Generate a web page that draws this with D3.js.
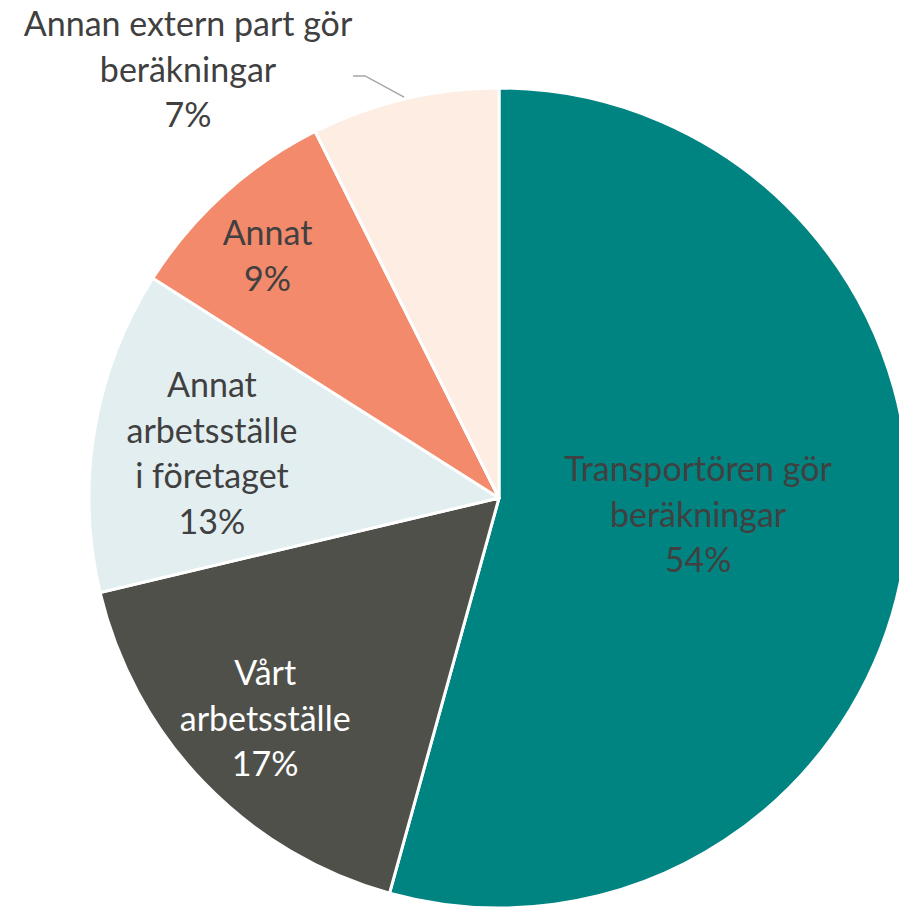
<!DOCTYPE html>
<html>
<head>
<meta charset="utf-8">
<script src="https://cdn.jsdelivr.net/npm/d3@7"></script>
<style>
  html, body { margin: 0; padding: 0; background: #fff; }
  svg { display: block; }
  text { font-family: Lato, "Open Sans", sans-serif; }
</style>
</head>
<body>
<div id="pie"></div>
<script>
// ===========================================================
// DATA
// ===========================================================
var categories = [
    "Transportören gör beräkningar",
    "Vårt arbetsställe",
    "Annat arbetsställe i företaget",
    "Annat",
    "Annan extern part gör beräkningar"
];
var shares = [54.3, 17.0, 12.7, 8.6, 7.4];

// how each label is broken into lines
var labelLines = [
    ["Transportören gör", "beräkningar"],
    ["Vårt", "arbetsställe"],
    ["Annat", "arbetsställe", "i företaget"],
    ["Annat"],
    ["Annan extern part gör", "beräkningar"]
];

// ===========================================================
// SET MARGINS
// ===========================================================
var svgWidth = 899;
var svgHeight = 907;
var cx = 499;
var cy = 498;
var radius = 410;

var colors = ["#008482", "#50504b", "#e2eef0", "#f28a6b", "#fdede3"];
var textColors = ["#404040", "#ffffff", "#404040", "#404040", "#404040"];
// label distance from centre, as a share of the radius (inside labels)
var labelRadius = [0.49, 0.785, 0.71, 0.82, null];
// small pixel nudges, the way excel places them
var labelNudge = [[0, -12], [-2, -4], [0, 2], [-6, 6], [0, 0]];
var fontSize = 34;
var lineHeight = 45.5;

// ===========================================================
// SVG WRAPPER
// ===========================================================
var svg = d3.select('#pie')
    .append('svg')
    .attr('width', svgWidth)
    .attr('height', svgHeight);

var chartGroup = svg.append('g')
    .attr('transform', `translate(${cx}, ${cy})`);

var pie = d3.pie()
    .sort(null)
    .value(d => d.value);

var data = categories.map((c, i) => ({ name: c, value: shares[i], i: i }));
var arcs = pie(data);

var arc = d3.arc()
    .innerRadius(0)
    .outerRadius(radius);

// ===========================================================
// SLICES
// ===========================================================
chartGroup.append('g')
    .selectAll('path')
    .data(arcs)
    .enter()
    .append('path')
    .attr('d', arc)
    .attr('fill', d => colors[d.data.i])
    .attr('stroke', '#fff')
    .attr('stroke-width', 3)
    .attr('stroke-linejoin', 'round');

// ===========================================================
// LABELS
// ===========================================================
function writeLabel(g, lines, x, y, color) {
    var n = lines.length;
    var y0 = y - (n - 1) * lineHeight / 2;
    lines.forEach(function(line, k) {
        g.append('text')
            .attr('x', x)
            .attr('y', y0 + k * lineHeight)
            .attr('text-anchor', 'middle')
            .attr('dominant-baseline', 'central')
            .style('font-size', fontSize + 'px')
            .style('fill', color)
            .text(line);
    });
}

var labelsGroup = chartGroup.append('g');

arcs.forEach(function(d) {
    var i = d.data.i;
    var lines = labelLines[i].concat([Math.round(d.data.value) + '%']);
    var mid = (d.startAngle + d.endAngle) / 2;
    if (labelRadius[i] != null) {
        var r = labelRadius[i] * radius;
        writeLabel(labelsGroup, lines,
            Math.sin(mid) * r + labelNudge[i][0],
            -Math.cos(mid) * r + labelNudge[i][1],
            textColors[i]);
    } else {
        // outside label with a leader line
        var edge = [Math.sin(mid) * radius * 1.005, -Math.cos(mid) * radius * 1.005];
        var bend = [Math.sin(mid) * radius * 1.058 - 34, -Math.cos(mid) * radius * 1.058];
        var end = [bend[0] - 12, bend[1]];
        labelsGroup.append('polyline')
            .attr('points', [edge, bend, end].map(p => p.join(',')).join(' '))
            .attr('fill', 'none')
            .attr('stroke', '#a6a6a6')
            .attr('stroke-width', 1.5);
        writeLabel(labelsGroup, lines, -311, -430, textColors[i]);
    }
});
</script>
</body>
</html>
